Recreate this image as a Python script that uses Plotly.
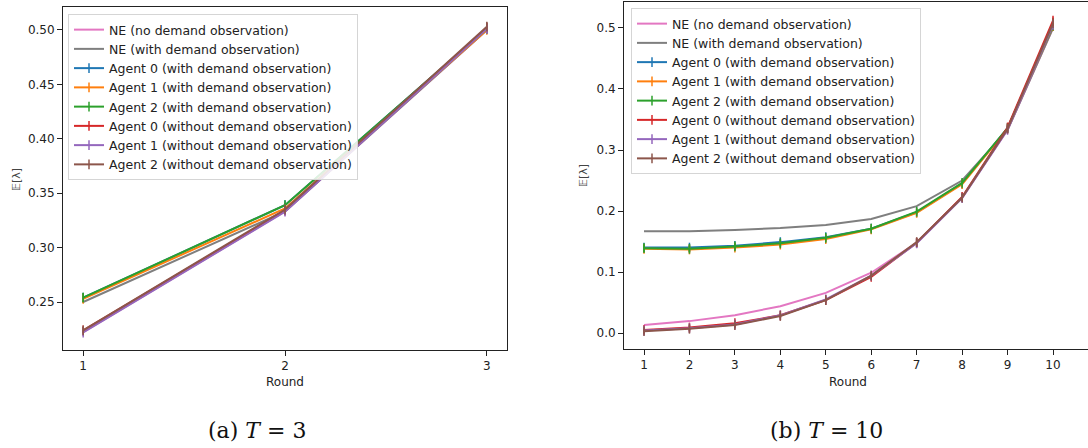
import plotly.graph_objects as go

# ---------------- data ----------------
rounds_a = [1, 2, 3]
ne_no_a = [0.2222, 0.3333, 0.5000]
ne_with_a = [0.2500, 0.3333, 0.5000]
a0_with_a = [0.254, 0.339, 0.501]
a1_with_a = [0.253, 0.336, 0.500]
a2_with_a = [0.254, 0.339, 0.501]
a0_wo_a = [0.224, 0.334, 0.502]
a1_wo_a = [0.222, 0.333, 0.501]
a2_wo_a = [0.224, 0.335, 0.503]
err_with_a = [0.004, 0.002, 0.002]
err_wo_a = [0.003, 0.003, 0.004]

rounds_b = [1, 2, 3, 4, 5, 6, 7, 8, 9, 10]
ne_no_b = [0.013, 0.0195, 0.0293, 0.0439, 0.0658, 0.0988, 0.148, 0.222, 0.333, 0.500]
ne_with_b = [0.167, 0.167, 0.169, 0.172, 0.177, 0.187, 0.208, 0.250, 0.333, 0.500]
a0_with_b = [0.140, 0.140, 0.143, 0.149, 0.157, 0.171, 0.198, 0.245, 0.336, 0.503]
a1_with_b = [0.138, 0.137, 0.140, 0.145, 0.154, 0.170, 0.197, 0.244, 0.335, 0.503]
a2_with_b = [0.139, 0.138, 0.142, 0.147, 0.156, 0.171, 0.199, 0.246, 0.336, 0.504]
a0_wo_b = [0.005, 0.009, 0.016, 0.029, 0.054, 0.092, 0.148, 0.223, 0.337, 0.512]
a1_wo_b = [0.004, 0.008, 0.014, 0.029, 0.055, 0.094, 0.147, 0.221, 0.333, 0.505]
a2_wo_b = [0.003, 0.007, 0.013, 0.028, 0.054, 0.094, 0.149, 0.222, 0.335, 0.508]
err_with_b = [0.006, 0.005, 0.005, 0.005, 0.004, 0.004, 0.004, 0.004, 0.004, 0.004]
err_wo_b = [0.004, 0.004, 0.004, 0.004, 0.004, 0.005, 0.007, 0.006, 0.005, 0.005]

names = ["NE (no demand observation)", "NE (with demand observation)",
         "Agent 0 (with demand observation)", "Agent 1 (with demand observation)",
         "Agent 2 (with demand observation)", "Agent 0 (without demand observation)",
         "Agent 1 (without demand observation)", "Agent 2 (without demand observation)"]
colors = ["#e377c2", "#7f7f7f", "#1f77b4", "#ff7f0e", "#2ca02c", "#d62728", "#9467bd", "#8c564b"]

caption_a = "(a) <i>T</i> = 3"
caption_b = "(b) <i>T</i> = 10"

fig = go.Figure()

def add_panel(x, ne_no, ne_with, agents, errs, xa, ya, leg):
    for i, ys in enumerate([ne_no, ne_with]):
        fig.add_trace(go.Scatter(x=x, y=ys, mode="lines", name=names[i],
                                 line=dict(color=colors[i], width=2),
                                 xaxis=xa, yaxis=ya, legend=leg))
    for j, (ys, e) in enumerate(zip(agents, errs)):
        k = j + 2
        fig.add_trace(go.Scatter(
            x=x, y=ys, mode="lines+markers", name=names[k],
            line=dict(color=colors[k], width=2),
            marker=dict(symbol="line-ns", size=7,
                        line=dict(color=colors[k], width=1.5), color=colors[k]),
            error_y=dict(type="data", array=e, visible=True, color=colors[k],
                         thickness=1.5, width=0),
            xaxis=xa, yaxis=ya, legend=leg))

add_panel(rounds_a, ne_no_a, ne_with_a,
          [a0_with_a, a1_with_a, a2_with_a, a0_wo_a, a1_wo_a, a2_wo_a],
          [err_with_a] * 3 + [err_wo_a] * 3, "x", "y", "legend")
add_panel(rounds_b, ne_no_b, ne_with_b,
          [a0_with_b, a1_with_b, a2_with_b, a0_wo_b, a1_wo_b, a2_wo_b],
          [err_with_b] * 3 + [err_wo_b] * 3, "x2", "y2", "legend2")

W, H = 1088, 448
font_main = "DejaVu Sans"
axis_common = dict(showline=True, linecolor="#222", linewidth=1, ticks="outside",
                   ticklen=5, tickwidth=1, tickcolor="#222", showgrid=False,
                   zeroline=False, tickfont=dict(family=font_main, size=12, color="#222"))

leg_common = dict(font=dict(family=font_main, size=12.5, color="#222"),
                  bgcolor="rgba(255,255,255,0.85)", bordercolor="#d5d5d5", borderwidth=1,
                  xanchor="left", yanchor="top", itemwidth=30, tracegroupgap=0)

fig.update_layout(
    width=W, height=H, margin=dict(l=0, r=0, t=0, b=0),
    paper_bgcolor="white", plot_bgcolor="white",
    xaxis=dict(domain=[63 / W, 507 / W], range=[0.9, 3.1], tickvals=rounds_a,
               mirror=True, anchor="y", **axis_common),
    yaxis=dict(domain=[1 - 350 / H, 1 - 7 / H], range=[0.2059, 0.5211],
               tickvals=[0.25, 0.30, 0.35, 0.40, 0.45, 0.50], tickformat=".2f",
               mirror=True, anchor="x", **axis_common),
    xaxis2=dict(domain=[624 / W, 1.0], range=[0.56, 10.77], tickvals=rounds_b,
                mirror=True, anchor="y2", **axis_common),
    yaxis2=dict(domain=[1 - 349 / H, 1 - 2 / H], range=[-0.0262, 0.5426],
                tickvals=[0.0, 0.1, 0.2, 0.3, 0.4, 0.5], tickformat=".1f",
                mirror=False, anchor="x2", **axis_common),
    legend=dict(x=68 / W, y=1 - 14 / H, **leg_common),
    legend2=dict(x=631 / W, y=1 - 8 / H, **leg_common),
    showlegend=True,
)

ann_font = dict(family=font_main, size=12, color="#222")
annotations = [
    dict(text="Round", x=285 / W, y=1 - 382 / H, xref="paper", yref="paper",
         showarrow=False, font=ann_font, xanchor="center", yanchor="middle"),
    dict(text="Round", x=848 / W, y=1 - 382 / H, xref="paper", yref="paper",
         showarrow=False, font=ann_font, xanchor="center", yanchor="middle"),
    dict(text="𝔼[λ]", x=16 / W, y=1 - 180 / H, xref="paper", yref="paper",
         showarrow=False, textangle=-90, font=dict(family=font_main, size=11, color="#444"),
         xanchor="center", yanchor="middle"),
    dict(text="𝔼[λ]", x=584 / W, y=1 - 176 / H, xref="paper", yref="paper",
         showarrow=False, textangle=-90, font=dict(family=font_main, size=11, color="#444"),
         xanchor="center", yanchor="middle"),
    dict(text=caption_a, x=257 / W, y=1 - 430 / H, xref="paper", yref="paper",
         showarrow=False, font=dict(family="DejaVu Serif", size=22, color="#111"),
         xanchor="center", yanchor="middle"),
    dict(text=caption_b, x=826 / W, y=1 - 430 / H, xref="paper", yref="paper",
         showarrow=False, font=dict(family="DejaVu Serif", size=22, color="#111"),
         xanchor="center", yanchor="middle"),
]
fig.update_layout(annotations=annotations)

fig.write_html("out.html", config={"displayModeBar": False},
               post_script="document.body.style.margin='0';document.body.style.overflow='hidden';")
